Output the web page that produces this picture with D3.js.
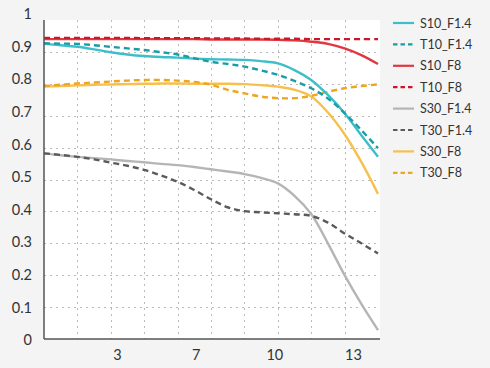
<!DOCTYPE html>
<html><head><meta charset="utf-8">
<script src="https://cdn.jsdelivr.net/npm/d3@7"></script>
<style>
html,body{margin:0;padding:0;background:#f4f4f4;}
svg{display:block;font-family:Lato,"Open Sans",sans-serif;}
</style></head>
<body><svg id="c" width="490" height="368"></svg>
<script>
// Image height (x) sample positions
const xs = [0,0.725,1.45,2.175,2.9,3.625,4.35,5.075,5.8,6.525,7.25,7.975,8.7,9.425,10.15,10.875,11.6,12.325,13.05,13.775,14.5];
const S10_F14 = [.925,.921,.916,.908,.899,.892,.887,.884,.882,.879,.877,.876,.875,.871,.864,.843,.812,.765,.708,.639,.571];
const T10_F14 = [.927,.926,.925,.921,.916,.911,.906,.899,.892,.880,.869,.862,.854,.842,.828,.809,.786,.754,.708,.655,.598];
const S10_F8  = [.940,.940,.940,.940,.940,.940,.940,.940,.940,.940,.939,.939,.939,.939,.938,.936,.932,.925,.911,.890,.862];
const T10_F8  = [.944,.944,.944,.944,.944,.944,.943,.943,.943,.943,.942,.942,.942,.941,.941,.941,.940,.940,.940,.940,.940];
const S30_F14 = [.582,.576,.571,.567,.563,.558,.554,.549,.545,.539,.532,.525,.517,.505,.488,.449,.392,.300,.200,.110,.028];
const T30_F14 = [.582,.577,.571,.563,.553,.543,.530,.513,.493,.467,.438,.413,.401,.397,.394,.391,.386,.365,.331,.300,.268];
const S30_F8  = [.791,.793,.795,.797,.798,.799,.800,.801,.801,.800,.800,.800,.799,.796,.791,.781,.760,.710,.642,.555,.455];
const T30_F8  = [.793,.797,.801,.804,.807,.810,.812,.812,.810,.806,.797,.781,.770,.760,.755,.755,.762,.775,.786,.793,.798];

const seriesNames = ["S10_F1.4","T10_F1.4","S10_F8","T10_F8","S30_F1.4","T30_F1.4","S30_F8","T30_F8"];
const seriesValues = [S10_F14,T10_F14,S10_F8,T10_F8,S30_F14,T30_F14,S30_F8,T30_F8];
const seriesColors = ["#3dbfca","#1a9ca8","#e0383f","#c8192b","#b5b5b5","#5b5b5b","#f7c04c","#f0a51e"];
const seriesDashed = [false,true,false,true,false,true,false,true];

const yTicks = [0,0.1,0.2,0.3,0.4,0.5,0.6,0.7,0.8,0.9,1];
const xTickLabels = ["3","7","10","13"];

const svg = d3.select("#c");
const L=44, R=378, T=20, B=339;
const x = d3.scaleLinear().domain([0,14.5]).range([L,R]);
const y = d3.scaleLinear().domain([0,1]).range([B,T]);
const yLab = d3.scaleLinear().domain([0,1]).range([340,14]);
const xLab = d3.scalePoint().domain(xTickLabels).range([117,353]);

svg.append("rect").attr("x",L).attr("y",T).attr("width",R-L+2).attr("height",B-T).attr("fill","#ffffff");

// grid
const grid = svg.append("g").attr("stroke","#b9b9b9").attr("stroke-width",1).attr("stroke-dasharray","2,4");
grid.selectAll("line.h").data(yTicks.filter(v=>v>0&&v<1)).join("line")
  .attr("x1",L).attr("x2",R).attr("y1",d=>Math.round(y(d))+0.5).attr("y2",d=>Math.round(y(d))+0.5);
grid.selectAll("line.v").data(d3.range(1,10).map(k=>k*1.45)).join("line")
  .attr("y1",T).attr("y2",B).attr("x1",d=>Math.round(x(d))+0.5).attr("x2",d=>Math.round(x(d))+0.5);

// y labels
const ya = svg.append("g").attr("transform",`translate(32,0)`)
  .call(d3.axisLeft(yLab).tickValues(yTicks).tickSize(0).tickPadding(0).tickFormat(d=>d3.format("")(+d.toFixed(1))));
ya.select(".domain").remove();
ya.selectAll("text").attr("font-size",14.5).attr("fill","#333").attr("font-family","Lato,'Open Sans',sans-serif");

// x labels
const xa = svg.append("g").attr("transform",`translate(0,${B})`)
  .call(d3.axisBottom(xLab).tickSize(0).tickPadding(11));
xa.select(".domain").remove();
xa.selectAll("text").attr("font-size",14.5).attr("fill","#333").attr("font-family","Lato,'Open Sans',sans-serif");

// lines
const line = d3.line().x((d,i)=>x(xs[i])).y(d=>y(d)).curve(d3.curveCatmullRom.alpha(0.5));
const order = [4,5,6,7,0,1,2,3];
svg.append("g").selectAll("path").data(order).join("path")
  .attr("d",i=>line(seriesValues[i]))
  .attr("fill","none")
  .attr("stroke",i=>seriesColors[i])
  .attr("stroke-width",2.4)
  .attr("stroke-dasharray",i=>seriesDashed[i]?"6,4":null);

// axes lines
svg.append("line").attr("x1",L).attr("x2",L).attr("y1",T).attr("y2",B).attr("stroke","#555").attr("stroke-width",1.5);
svg.append("line").attr("x1",L).attr("x2",R+2).attr("y1",B).attr("y2",B).attr("stroke","#555").attr("stroke-width",1.5);

// legend
const lg = svg.append("g").selectAll("g").data(seriesNames).join("g")
  .attr("transform",(d,i)=>`translate(393,${23+i*21.4})`);
lg.append("line").attr("x1",0).attr("x2",21).attr("y1",0).attr("y2",0)
  .attr("stroke",(d,i)=>seriesColors[i]).attr("stroke-width",2.2)
  .attr("stroke-dasharray",(d,i)=>seriesDashed[i]?"4.5,3":null);
lg.append("text").attr("x",27).attr("y",0).attr("dy","0.36em")
  .attr("font-size",12.5).attr("fill","#333").text(d=>d);
</script></body></html>
